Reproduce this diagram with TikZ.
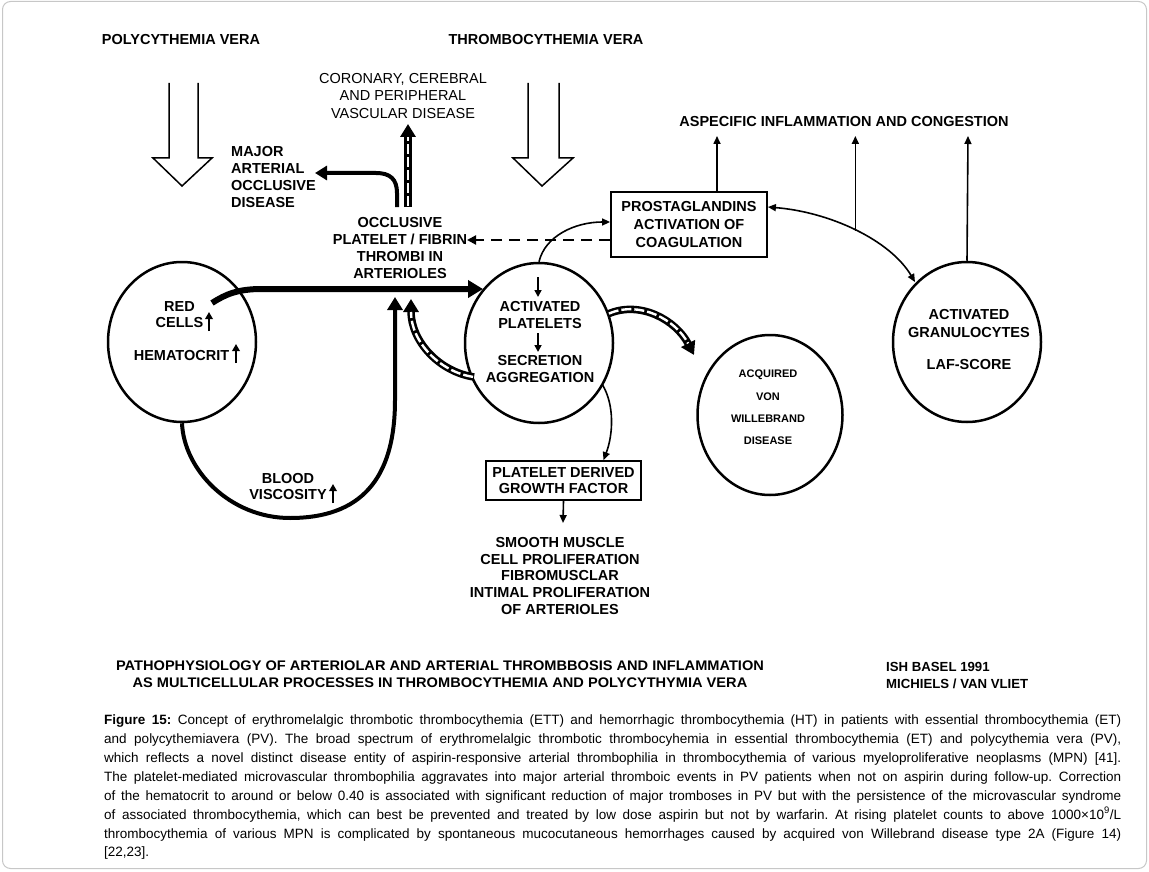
\documentclass[tikz,border=0pt]{standalone}
\usepackage{fontspec}
\setmainfont{Liberation Sans}
\usetikzlibrary{arrows.meta,shapes.geometric}
\frenchspacing
\begin{document}
\begin{tikzpicture}[x=1pt,y=-1pt,
  lbl/.style={font=\bfseries\fontsize{14.5}{16.8}\selectfont, align=center, inner sep=0pt},
  lbll/.style={lbl, align=left},
  reg/.style={font=\fontsize{14.5}{17.5}\selectfont, align=center, inner sep=0pt},
  blob/.style={ellipse, draw, line width=2.5pt, minimum width=148pt, minimum height=160pt, inner sep=0pt},
  boxn/.style={draw, line width=1.8pt, inner sep=0pt, align=center, font=\bfseries\fontsize{14.5}{18}\selectfont},
  thin/.style={line width=1.6pt, -{Triangle[length=8pt,width=7pt]}},
  thinboth/.style={line width=1.6pt, {Triangle[length=8pt,width=7pt]}-{Triangle[length=8pt,width=7pt]}},
  hollow/.style={line width=1.5pt, line join=miter},
  stripeb/.style={line width=7.5pt, -{Triangle[length=13pt,width=15pt]}},
  stripew/.style={white, line width=2.4pt, dash pattern=on 10pt off 3pt, shorten >=13pt, shorten <=1pt},
  upglyph/.style={line width=2.4pt, -{Triangle[length=7pt,width=7.5pt]}},
  caprow/.style={anchor=base west, inner sep=0pt, font=\fontsize{13.5}{19}\selectfont}
]
\useasboundingbox (0,0) rectangle (1149,872);
\draw[black!22, line width=1pt, rounded corners=8pt] (2.5,1.5) rectangle (1146.5,868.5);

% titles
\node[lbl] (pv) at (181,40) {POLYCYTHEMIA VERA};
\node[lbl] (tv) at (546,40) {THROMBOCYTHEMIA VERA};

% hollow arrows
\draw[hollow] (169,83) -- (169,158) -- (153,158) -- (182,186) -- (212,158) -- (198,158) -- (198,83);
\draw[hollow] (528,83) -- (528,158) -- (513,158) -- (542,186) -- (573,158) -- (559,158) -- (559,83);

% labels
\node[reg] (cor) at (403,96) {CORONARY, CEREBRAL\\AND PERIPHERAL\\VASCULAR DISEASE};
\node[lbll, anchor=west] (maj) at (231,177) {MAJOR\\ARTERIAL\\OCCLUSIVE\\DISEASE};
\node[lbl] (occ) at (400,248) {OCCLUSIVE\\PLATELET / FIBRIN\\THROMBI IN\\ARTERIOLES};
\node[lbl] (asp) at (844,122) {ASPECIFIC INFLAMMATION AND CONGESTION};

% boxes
\node[boxn, minimum width=156pt, minimum height=65pt] (pg) at (689,224.5) {PROSTAGLANDINS\\ACTIVATION OF\\COAGULATION};
\node[boxn, minimum width=155pt, minimum height=39pt, font=\bfseries\fontsize{14.5}{16}\selectfont] (pdgf) at (563.5,480.5) {PLATELET DERIVED\\GROWTH FACTOR};

% circles
\node[blob] (rbc) at (182,342) {};
\node[blob] (plat) at (539,343) {};
\node[blob, minimum width=145pt] (vwd) at (770,415) {};
\node[blob] (gran) at (967,342) {};

% circle texts
\node[lbl] (redt) at (179.5,314.5) {RED\\CELLS};
\node[lbl] (hemt) at (181.5,356) {HEMATOCRIT};
\node[lbl] (pl1) at (540,315) {ACTIVATED\\PLATELETS};
\node[lbl] (pl2) at (540,369) {SECRETION\\AGGREGATION};
\node[lbl, font=\bfseries\fontsize{11}{22.4}\selectfont] (vwdt) at (768,407.5) {ACQUIRED\\VON\\WILLEBRAND\\DISEASE};
\node[lbl, font=\bfseries\fontsize{14.5}{18}\selectfont] (gr1) at (969,323.5) {ACTIVATED\\GRANULOCYTES};
\node[lbl] (gr2) at (969,365) {LAF-SCORE};
\node[lbl] (visc) at (288,486.5) {BLOOD\\VISCOSITY};
\node[lbl] (smc) at (560,576) {SMOOTH MUSCLE\\CELL PROLIFERATION\\FIBROMUSCLAR\\INTIMAL PROLIFERATION\\OF ARTERIOLES};

% small up glyphs
\draw[upglyph] (209,331) -- (209,312);
\draw[upglyph] (236,363) -- (236,344);
\draw[upglyph] (333,503) -- (333,484);

% arrows inside platelets
\draw[line width=1.6pt, -{Triangle[length=7pt,width=7pt]}] (538,277) -- (538,297);
\draw[line width=1.6pt, -{Triangle[length=7pt,width=7pt]}] (538,333) -- (538,352);

% thick arrow red cells -> platelets
\coordinate (rcs) at (212,303);
\coordinate (plin) at (483,289);
\draw[line width=6pt, -{Triangle[length=15pt,width=17pt]}] (rcs) .. controls (226,294) and (238,289) .. (262,289) -- (plin);

% big U: red cells -> arterioles
\coordinate (uend) at (395,297);
\draw[line width=4pt, -{Triangle[length=13pt,width=15pt]}] (rbc.south) .. controls (184,470) and (230,518) .. (290,518) .. controls (360,518) and (395,480) .. (395,400) -- (uend);

% striped: platelets -> arterioles
\coordinate (ps1) at (474,377);
\coordinate (pe1) at (411,299);
\draw[stripeb] (ps1) .. controls (440,372) and (411,342) .. (pe1);
\draw[stripew] (ps1) .. controls (440,372) and (411,342) .. (pe1);

% striped: platelets -> von Willebrand
\coordinate (ps2) at (608,314);
\coordinate (pe2) at (694,355);
\draw[stripeb] (ps2) .. controls (640,300) and (676,320) .. (pe2);
\draw[stripew] (ps2) .. controls (640,300) and (676,320) .. (pe2);

% striped: occlusive -> coronary
\coordinate (vs) at (408,207);
\coordinate (ve) at (408,124);
\draw[stripeb, line width=8pt] (vs) -- (ve);
\draw[stripew] (vs) -- (ve);

% occlusive -> major arterial
\coordinate (ms) at (397,207);
\coordinate (me) at (315,173);
\draw[line width=4pt, -{Triangle[length=12pt,width=14pt]}] (ms) -- (397,193) .. controls (397,179) and (390,173) .. (376,173) -- (me);

% dashed from prostaglandins to occlusive
\coordinate (dend) at (467,240);
\draw[line width=2pt, dash pattern=on 11pt off 7pt, -{Triangle[length=9pt,width=9pt]}] ([yshift=-15.5pt]pg.west) -- (dend);

% platelets -> prostaglandins
\draw[thin] (plat.north) .. controls (545,236) and (575,222) .. ([yshift=2.5pt]pg.west);

% prostaglandins <-> granulocytes
\draw[thinboth] ([yshift=17.5pt]pg.east) .. controls (830,212) and (890,240) .. coordinate[pos=0.5] (mid) (915,282);

% up arrows to aspecific
\coordinate (a1) at (717,136);
\coordinate (a2) at (856,136);
\coordinate (a3) at (968,136);
\draw[thin] ([xshift=28pt]pg.north) -- (a1);
\draw[thin] (mid) -- (mid |- a2);
\draw[thin] (gran.north) -- (a3);

% platelets -> PDGF
\coordinate (pds) at (602,384);
\draw[thin] (pds) .. controls (615,405) and (613,435) .. ([xshift=40pt]pdgf.north);
\coordinate (smtop) at (563,523);
\draw[thin] (pdgf.south) -- (smtop);

% bottom title
\node[inner sep=0pt] (ttl) at (440,675.5) {\scalebox{1.05}[1]{\bfseries\fontsize{13.9}{17}\selectfont\begin{tabular}{@{}c@{}}PATHOPHYSIOLOGY OF ARTERIOLAR AND ARTERIAL THROMBBOSIS AND INFLAMMATION\\AS MULTICELLULAR PROCESSES IN THROMBOCYTHEMIA AND POLYCYTHYMIA VERA\end{tabular}}};
\node[lbll, anchor=west, font=\bfseries\fontsize{13.2}{17}\selectfont] (ish) at (886,675.5) {ISH BASEL 1991\\MICHIELS / VAN VLIET};

% caption
\node[caprow] (c1) at (104,724) {\hbox to 1017pt{\textbf{Figure 15:} Concept of erythromelalgic thrombotic thrombocythemia (ETT) and hemorrhagic thrombocythemia (HT) in patients with essential thrombocythemia (ET)}};
\node[caprow] (c2) at (104,743) {\hbox to 1017pt{and polycythemiavera (PV). The broad spectrum of erythromelalgic thrombotic thrombocyhemia in essential thrombocythemia (ET) and polycythemia vera (PV),}};
\node[caprow] (c3) at (104,762) {\hbox to 1017pt{which reflects a novel distinct disease entity of aspirin-responsive arterial thrombophilia in thrombocythemia of various myeloproliferative neoplasms (MPN) [41].}};
\node[caprow] (c4) at (104,781) {\hbox to 1017pt{The platelet-mediated microvascular thrombophilia aggravates into major arterial thromboic events in PV patients when not on aspirin during follow-up. Correction}};
\node[caprow] (c5) at (104,800) {\hbox to 1017pt{of the hematocrit to around or below 0.40 is associated with significant reduction of major tromboses in PV but with the persistence of the microvascular syndrome}};
\node[caprow] (c6) at (104,819) {\hbox to 1017pt{of associated thrombocythemia, which can best be prevented and treated by low dose aspirin but not by warfarin. At rising platelet counts to above 1000×10\textsuperscript{9}/L}};
\node[caprow] (c7) at (104,838) {\hbox to 1017pt{thrombocythemia of various MPN is complicated by spontaneous mucocutaneous hemorrhages caused by acquired von Willebrand disease type 2A (Figure 14)}};
\node[caprow] (c8) at (104,856) {[22,23].};
\end{tikzpicture}
\end{document}
